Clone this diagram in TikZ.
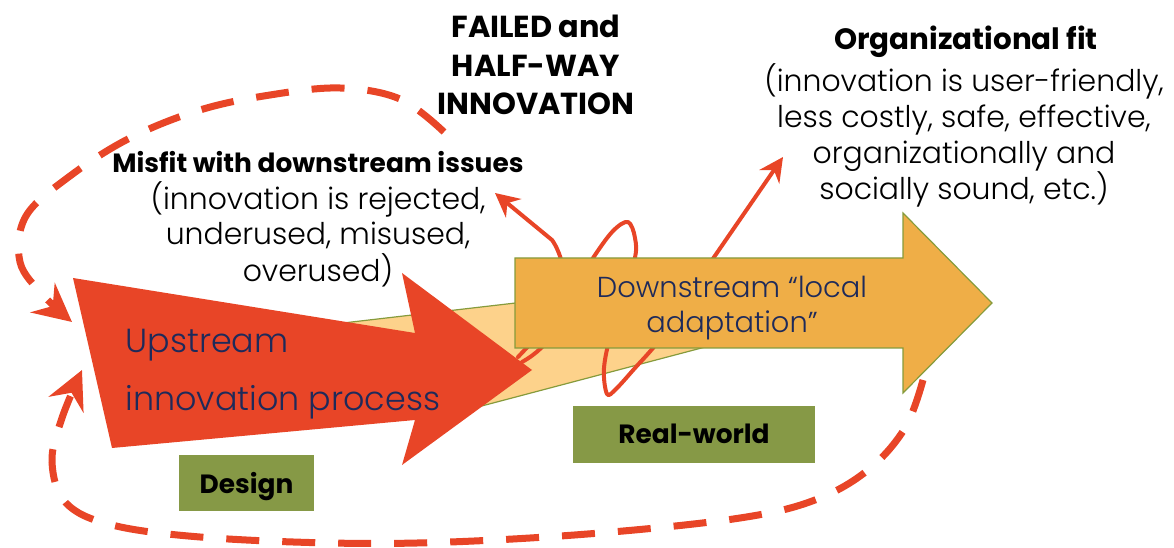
\documentclass[tikz,border=0pt]{standalone}
\usepackage{fontspec}
\setmainfont{Poppins}
\newfontfamily\thinfont{Poppins Light}
\usetikzlibrary{arrows.meta}

\definecolor{upred}{RGB}{232,69,39}
\definecolor{downorange}{RGB}{239,174,71}
\definecolor{funnel}{RGB}{253,210,139}
\definecolor{edgegreen}{RGB}{134,155,60}
\definecolor{stageolive}{RGB}{134,153,70}
\definecolor{navytext}{RGB}{30,42,90}

\begin{document}
\begin{tikzpicture}[x=1bp,y=-1bp,
  flow/.style={draw=upred, line width=4bp, line cap=round, line join=round},
  flowtip/.style={-{Stealth[length=24bp,width=24bp,inset=8bp]}},
  feedback/.style={draw=upred, line width=7bp, dash pattern=on 33bp off 23bp,
    -{Stealth[length=38bp,width=38bp,inset=13bp]}},
  stagebox/.style={fill=stageolive, inner sep=0pt},
  stagetext/.style={anchor=base, font=\bfseries\fontsize{26.5}{26.5}\selectfont},
  headline/.style={anchor=base, font=\bfseries\fontsize{26.5}{26.5}\selectfont},
  bodyline/.style={anchor=base, font=\thinfont\fontsize{30}{30}\selectfont},
  arrowtext/.style={anchor=base, text=navytext, font=\thinfont\fontsize{29}{29}\selectfont},
  bigarrowtext/.style={anchor=base west, text=navytext, font=\thinfont\fontsize{33.5}{33.5}\selectfont}
]
\useasboundingbox (0,0) rectangle (1174,548);

% funnel between the two stages
\filldraw[fill=funnel, draw=edgegreen, line width=1.2bp]
  (300,328) -- (800,270) -- (800,322) -- (440,417) -- cycle;

% red strokes leaving the upstream arrow
\draw[flow, flowtip] (522,362) .. controls (580,330) and (568,262) .. (552,240) -- (495,193);
\draw[flow] plot[smooth, tension=0.55] coordinates {
  (518,357) (560,310) (593,258) (613,231) (628,222) (635,238) (634,262)
  (612,330) (604,368) (607,394) (616,389) (635,368) (653,348) (668,328)};
\draw[flow, flowtip] (690,292) -- (783,157);

% upstream arrow
\fill[upred] (73,278) -- (415,333) -- (402,273) -- (532,370) -- (402,465)
  -- (415,420) -- (112,448) -- cycle;

% downstream arrow
\filldraw[fill=downorange, draw=edgegreen, line width=1.2bp]
  (515,258) -- (903,258) -- (903,213) -- (992,303) -- (903,393) -- (903,348)
  -- (515,348) -- cycle;

% stage labels
\node[stagebox, minimum width=135bp, minimum height=56bp] (design) at (246.5,483) {};
\node[stagetext] (designtxt) at (246.5,493) {Design};
\node[stagebox, minimum width=242bp, minimum height=57bp] (realworld) at (694,434.5) {};
\node[stagetext] (realtxt) at (694,443) {Real-world};

% feedback loops back to the upstream process
\draw[feedback] plot[smooth, tension=0.6] coordinates {
  (444,132) (400,99) (340,88) (270,95) (200,110) (130,138) (70,176)
  (26,216) (20,262) (44,296) (72,322)};
\draw[feedback] plot[smooth, tension=0.6] coordinates {
  (923,380) (905,428) (868,470) (815,500) (740,518) (600,533) (450,542)
  (330,543) (200,537) (112,525) (66,503) (52,462) (62,418) (82,370)};

% text in the arrows
\node[bigarrowtext] (up1) at (122,353) {Upstream};
\node[bigarrowtext] (up2) at (122,410) {innovation process};
\node[arrowtext] (down1) at (732,298) {Downstream “local};
\node[arrowtext] (down2) at (732,333) {adaptation”};

% headings and explanations
\node[headline, font=\bfseries\fontsize{30.5}{30.5}\selectfont] (fail1) at (536,38) {FAILED and};
\node[headline, font=\bfseries\fontsize{30.5}{30.5}\selectfont] (fail2) at (536,77) {HALF-WAY};
\node[headline, font=\bfseries\fontsize{30.5}{30.5}\selectfont] (fail3) at (536,115) {INNOVATION};

\node[headline] (mis0) at (318,173) {Misfit with downstream issues};
\node[bodyline] (mis1) at (318,210) {(innovation is rejected,};
\node[bodyline] (mis2) at (318,245) {underused, misused,};
\node[bodyline] (mis3) at (318,282) {overused)};

\node[headline, font=\bfseries\fontsize{29.5}{29.5}\selectfont] (org0) at (966,50) {Organizational fit};
\node[bodyline] (org1) at (964,92) {(innovation is user-friendly,};
\node[bodyline] (org2) at (964,128) {less costly, safe, effective,};
\node[bodyline] (org3) at (964,164) {organizationally and};
\node[bodyline] (org4) at (964,200) {socially sound, etc.)};
\end{tikzpicture}
\end{document}
